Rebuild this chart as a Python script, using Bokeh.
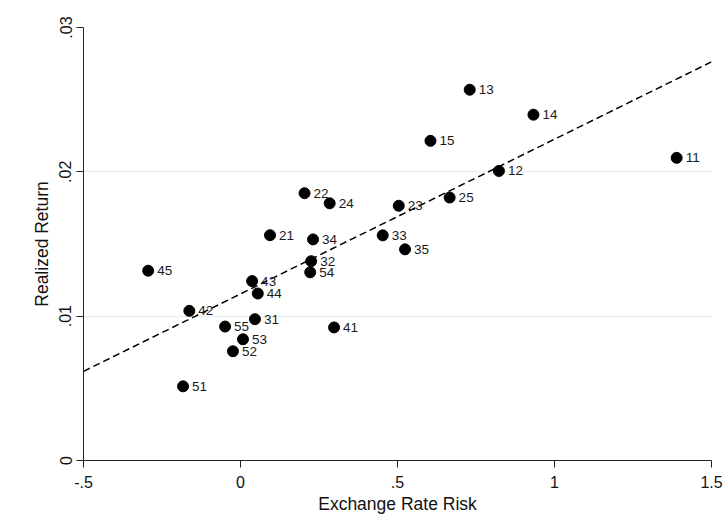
from bokeh.plotting import figure
from bokeh.models import ColumnDataSource, FixedTicker, Range1d
from bokeh.embed import file_html
from bokeh.resources import INLINE
from bokeh.core.properties import value

# ---- data ----
labels = ["11", "12", "13", "14", "15",
          "21", "22", "23", "24", "25",
          "31", "32", "33", "34", "35",
          "41", "42", "43", "44", "45",
          "51", "52", "53", "54", "55"]
risk = [1.389, 0.823, 0.730, 0.933, 0.605,
        0.094, 0.204, 0.504, 0.284, 0.666,
        0.046, 0.225, 0.453, 0.231, 0.524,
        0.298, -0.163, 0.037, 0.055, -0.294,
        -0.183, -0.024, 0.008, 0.222, -0.049]
ret = [0.02097, 0.02006, 0.02569, 0.02396, 0.02215,
       0.01561, 0.01852, 0.01765, 0.01782, 0.01822,
       0.00979, 0.01381, 0.01560, 0.01532, 0.01463,
       0.00922, 0.01037, 0.01243, 0.01157, 0.01315,
       0.00514, 0.00757, 0.00840, 0.01304, 0.00928]

fit_x = [-0.5, 1.5]
fit_y = [0.00618, 0.02762]

x_ticks = [-0.5, 0, 0.5, 1, 1.5]
x_tick_labels = ["-.5", "0", ".5", "1", "1.5"]
y_ticks = [0, 0.01, 0.02, 0.03]
y_tick_labels = ["0", ".01", ".02", ".03"]

FONT = "Liberation Sans"

p = figure(width=723, height=527, output_backend="svg", toolbar_location=None,
           x_range=Range1d(-0.5, 1.5), y_range=Range1d(0, 0.03))
p.min_border_left = 83
p.min_border_right = 12
p.min_border_top = 27
p.min_border_bottom = 67
p.outline_line_color = None
p.background_fill_color = "white"
p.border_fill_color = "white"

src = ColumnDataSource(dict(x=risk, y=ret, lab=labels))

p.line(fit_x, fit_y, line_color="black", line_width=1.5, line_dash="7 4")
p.scatter("x", "y", source=src, size=11, fill_color="black", line_color="black")
p.text("x", "y", text="lab", source=src, x_offset=9, text_baseline="middle",
       text_font=value(FONT), text_font_size="13.5px", text_color="#1a1a1a")

# grid
p.xgrid.grid_line_color = None
p.ygrid.grid_line_color = "#e8f0f2"
p.ygrid.grid_line_width = 1.5
p.ygrid.ticker = FixedTicker(ticks=[0.01, 0.02, 0.03])

# axes
p.xaxis.ticker = FixedTicker(ticks=x_ticks)
p.yaxis.ticker = FixedTicker(ticks=y_ticks)
p.xaxis.major_label_overrides = {t: l for t, l in zip(x_ticks, x_tick_labels)}
p.yaxis.major_label_overrides = {t: l for t, l in zip(y_ticks, y_tick_labels)}
p.yaxis.major_label_orientation = "vertical"

for ax in (p.xaxis[0], p.yaxis[0]):
    ax.axis_line_color = "#222222"
    ax.axis_line_width = 1
    ax.major_tick_line_color = "#222222"
    ax.major_tick_in = 0
    ax.major_tick_out = 7
    ax.minor_tick_line_color = None
    ax.major_label_text_font = FONT
    ax.major_label_text_font_size = "16px"
    ax.major_label_text_color = "#111111"
    ax.axis_label_text_font = FONT
    ax.axis_label_text_font_size = "17.5px"
    ax.axis_label_text_font_style = "normal"
    ax.axis_label_text_color = "#111111"

p.xaxis.axis_label = "Exchange Rate Risk"
p.yaxis.axis_label = "Realized Return"
p.xaxis.major_label_standoff = 8
p.xaxis.axis_label_standoff = 3
p.yaxis.major_label_standoff = 5
p.yaxis.axis_label_standoff = 5

open("out.html", "w").write(file_html(p, INLINE))
